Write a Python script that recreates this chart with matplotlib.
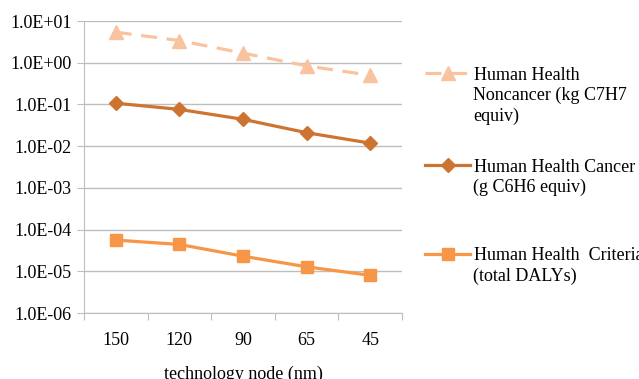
import matplotlib.pyplot as plt
import numpy as np
from matplotlib.ticker import FixedLocator, NullFormatter

plt.rcParams['font.family'] = ['Liberation Serif', 'DejaVu Serif']

# values
nodes = ['150', '120', '90', '65', '45']
noncancer = [5.4, 3.4, 1.7, 0.84, 0.5]
cancer = [0.107, 0.076, 0.044, 0.021, 0.0118]
criteria = [5.6e-5, 4.4e-5, 2.3e-5, 1.28e-5, 8.0e-6]
yticks = [1e-6, 1e-5, 1e-4, 1e-3, 1e-2, 1e-1, 1e0, 1e1]
ylabels = ['1.0E-06', '1.0E-05', '1.0E-04', '1.0E-03', '1.0E-02',
           '1.0E-01', '1.0E+00', '1.0E+01']

c_non = '#FAC3A0'
c_can = '#CC7430'
c_cri = '#F79646'
grid_c = '#BEBEBE'
fs = 13

fig = plt.figure(figsize=(6.39, 3.79), dpi=100)
ax = fig.add_axes([84 / 639, 1 - 313 / 379, 318 / 639, 292 / 379])

x = np.arange(len(nodes))
ax.plot(x, noncancer, color=c_non, lw=2.3, ls=(0, (5, 3)), marker='^', ms=10,
        zorder=3)
ax.plot(x, cancer, color=c_can, lw=2.3, marker='D', ms=7, zorder=3)
ax.plot(x, criteria, color=c_cri, lw=2.3, marker='s', ms=9, zorder=3)

ax.set_yscale('log')
ax.set_ylim(1e-6, 1e1)
ax.set_xlim(-0.5, len(nodes) - 0.5)
ax.set_yticks(yticks)
ax.set_yticklabels(ylabels, fontsize=fs)
ax.yaxis.set_minor_locator(FixedLocator([]))
ax.yaxis.set_minor_formatter(NullFormatter())
ax.grid(axis='y', color=grid_c, lw=1)
ax.set_axisbelow(True)

# category labels between boundary ticks
ax.set_xticks(np.arange(-0.5, len(nodes), 1.0))
ax.set_xticklabels([])
ax.set_xticks(x, minor=True)
ax.set_xticklabels(nodes, minor=True, fontsize=fs)
ax.tick_params(axis='x', which='minor', length=0, pad=14)
ax.tick_params(axis='x', which='major', length=5, color=grid_c, direction='out')
ax.tick_params(axis='y', length=5, color=grid_c, pad=4)
ax.set_xlabel('technology node (nm)', fontsize=fs, labelpad=12)

for s in ['top', 'right']:
    ax.spines[s].set_visible(False)
for s in ['left', 'bottom']:
    ax.spines[s].set_color(grid_c)

# legend: one entry per series, handle beside the first line of its label
entries = [
    (ax.lines[0], ['Human Health', 'Noncancer (kg C7H7', 'equiv)'], 75),
    (ax.lines[1], ['Human Health Cancer', '(g C6H6 equiv)'], 167),
    (ax.lines[2], ['Human Health  Criteria', '(total DALYs)'], 256),
]
for handle, lines, ypx in entries:
    leg = fig.legend([handle], [lines[0]], loc='center left',
                     bbox_to_anchor=(425 / 639, 1 - ypx / 379),
                     frameon=False, fontsize=fs, handlelength=2.5,
                     handletextpad=0.2, borderpad=0, borderaxespad=0)
    for i, extra in enumerate(lines[1:], start=1):
        fig.text(473 / 639, 1 - (ypx + 20.5 * i) / 379, extra, fontsize=fs,
                 va='center', ha='left')

fig.savefig('out.png', dpi=100)
